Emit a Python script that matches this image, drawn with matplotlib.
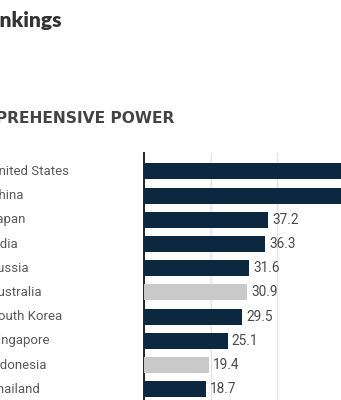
import matplotlib
matplotlib.use("Agg")
import matplotlib.pyplot as plt

categories = ["United States", "China", "Japan", "India", "Russia", "Australia",
              "South Korea", "Singapore", "Indonesia", "Thailand"]
values = [80.7, 72.5, 37.2, 36.3, 31.6, 30.9, 29.5, 25.1, 19.4, 18.7]
highlight = [False, False, False, False, False, True, False, False, True, False]
title = "Asia Power Index 2023 Rankings"
subtitle = "COMPREHENSIVE POWER"
grid_ticks = [20, 40, 60, 80]

NAVY = "#0c2740"
GREY = "#c9c9c9"
W, H = 341, 400
fig = plt.figure(figsize=(W / 100, H / 100), dpi=100)
fig.patch.set_facecolor("white")

# axes placed in pixel coordinates
ax_left, ax_top = 144, 153
ax = fig.add_axes([ax_left / W, 0, (W - ax_left) / W, (H - ax_top) / H])
ax.set_xlim(0, 59.1)
ax.set_ylim(9.44, -0.76)

colors = [GREY if h else NAVY for h in highlight]
ypos = list(range(len(categories)))
ax.barh(ypos, values, height=0.66, color=colors, zorder=3)

for t in grid_ticks:
    ax.axvline(t, color="#e3e3e3", lw=1.0, zorder=1)

for y, v in zip(ypos, values):
    ax.text(v + 1.2, y, f"{v:.1f}", va="center", ha="left", fontsize=9.8,
            color="#4a4a4a", family="Roboto", zorder=4)

for s in ["top", "right", "bottom"]:
    ax.spines[s].set_visible(False)
ax.spines["left"].set_color("#222222")
ax.spines["left"].set_linewidth(1.4)
ax.set_xticks([])
ax.set_yticks([])

# category labels, left-aligned slightly off the figure edge
for y, c in zip(ypos, categories):
    yy = ax.transData.transform((0, y))[1]
    fig.text(-10 / W, yy / H, c, ha="left", va="center", fontsize=9.5,
             color="#5a5a5a", family="Roboto")

fig.text(62 / W, 1 - 27 / H, title, ha="right", va="baseline", fontsize=15,
         fontweight="heavy", color="#333333", family="Lato")
fig.text(174 / W, 1 - 123 / H, subtitle, ha="right", va="baseline", fontsize=11.2,
         fontweight="bold", color="#444444", family="DejaVu Sans")

fig.savefig("out.png", dpi=100, facecolor="white")
